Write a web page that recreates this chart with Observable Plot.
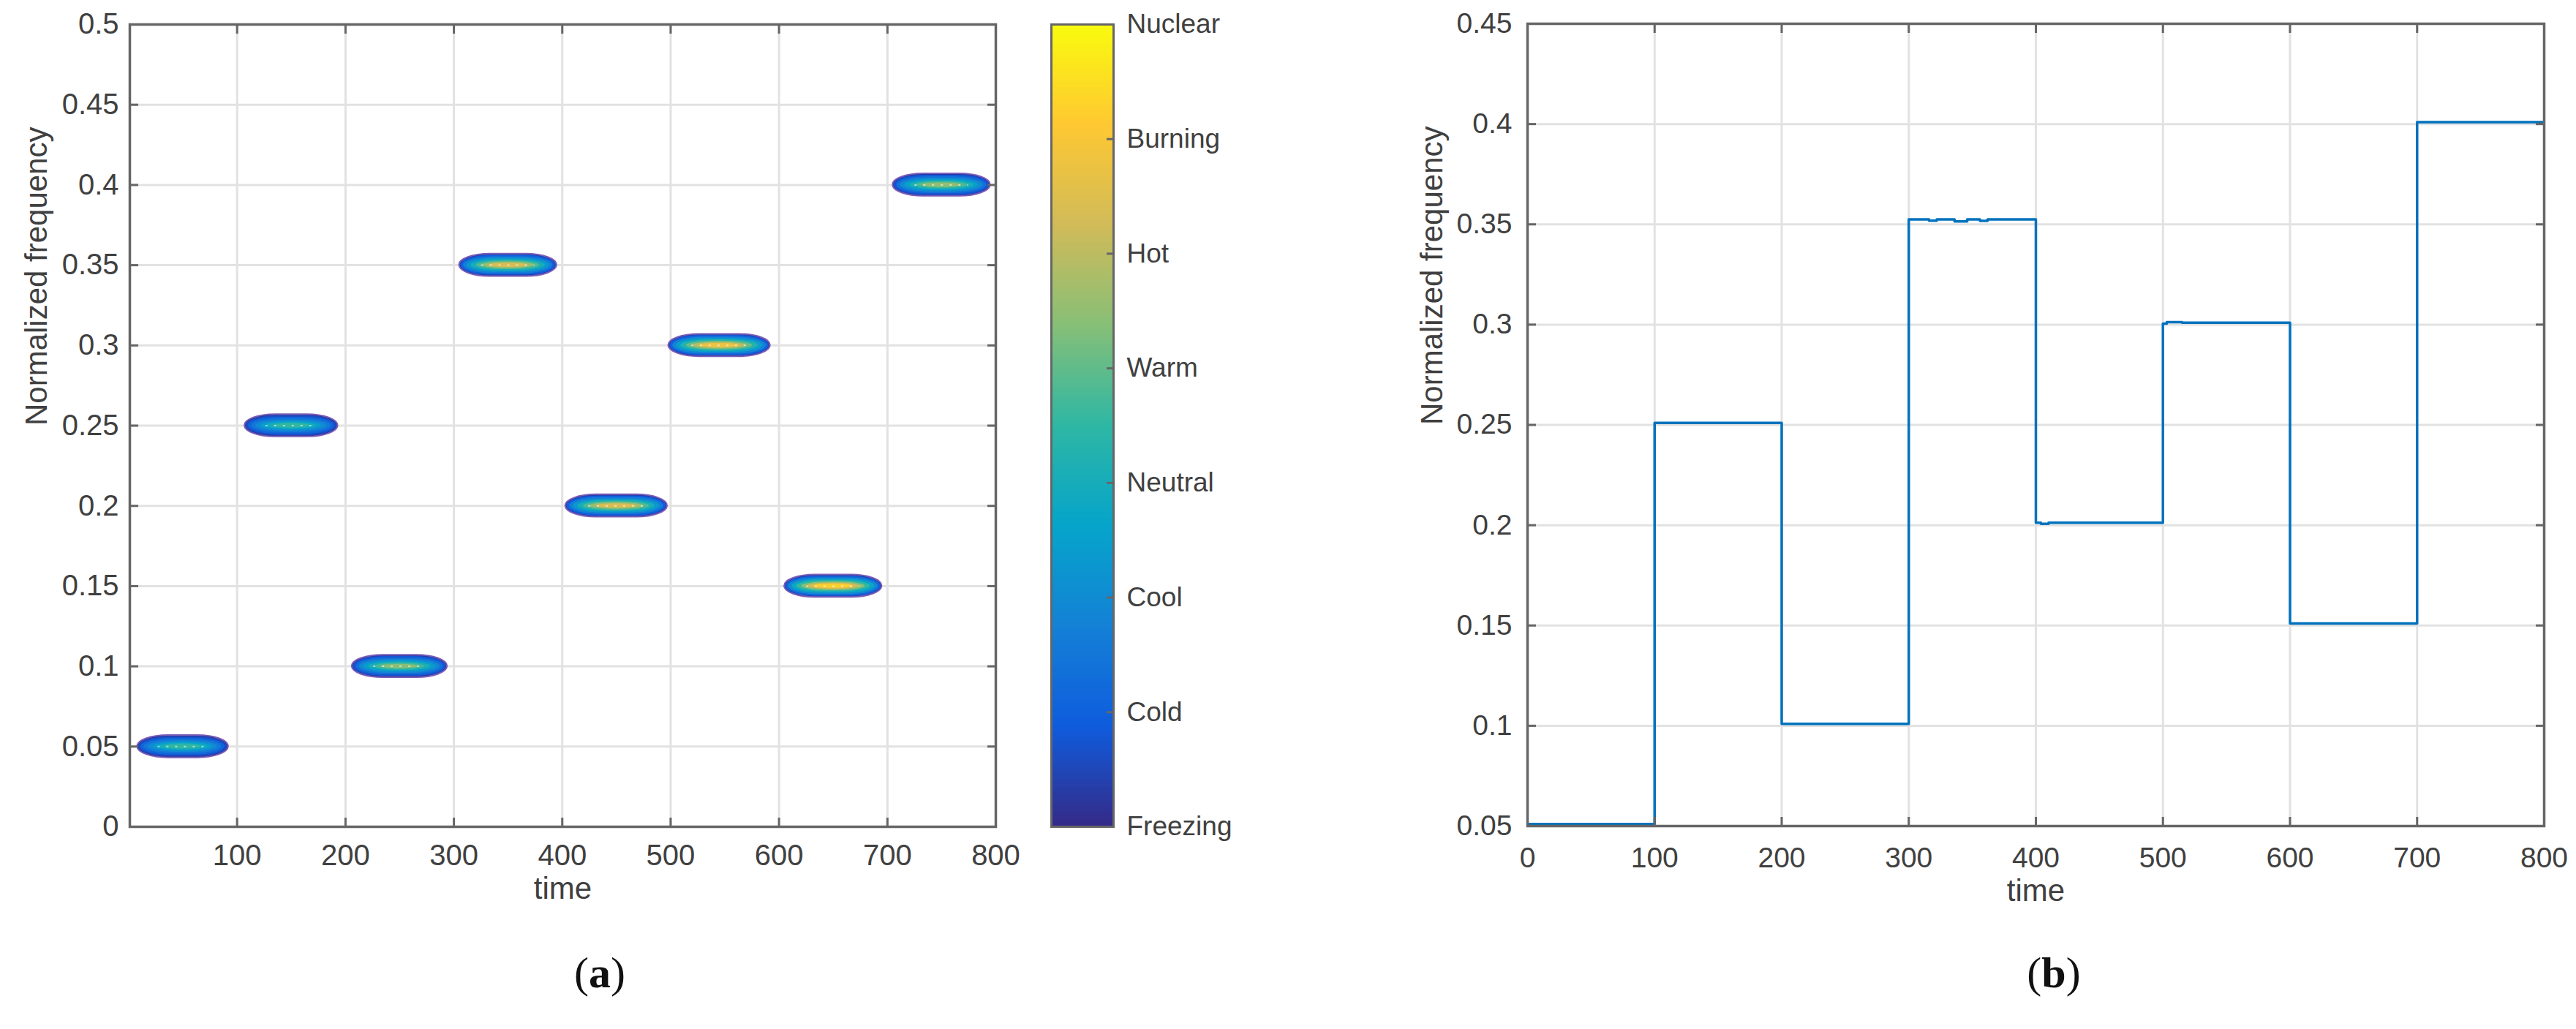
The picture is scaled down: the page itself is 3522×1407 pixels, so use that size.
<!DOCTYPE html>
<html><head><meta charset="utf-8">
<script src="https://cdn.jsdelivr.net/npm/d3@7"></script>
<script src="https://cdn.jsdelivr.net/npm/@observablehq/plot@0.6"></script>
<style>
html,body{margin:0;padding:0;background:#fff;}
#root{position:relative;width:3522px;height:1407px;overflow:hidden;background:#fff;font-family:"Liberation Sans",Arial,sans-serif;}
.panel{position:absolute;top:0;}
.cap{position:absolute;font-family:"Liberation Serif","Times New Roman",serif;font-size:60px;color:#111;transform:translate(-50%,-50%);white-space:nowrap;}
</style></head><body><div id="root"></div>
<script>
// ---------- data: panel (a) time-frequency blobs ----------
const blobTime      = [50, 150, 250, 350, 450, 545, 650, 750];
const blobFreq      = [0.05, 0.25, 0.10, 0.35, 0.20, 0.30, 0.15, 0.40];
const blobHalfWidth = [42, 43, 44, 45, 47, 47, 45, 45];
const blobHalfHeight= [0.007, 0.007, 0.007, 0.007, 0.007, 0.007, 0.007, 0.007];
const blobPeak      = [0.55, 0.55, 0.68, 0.84, 0.84, 0.9, 0.97, 0.7];
// contour rings (fraction of peak, relative size)
const ringFrac   = [0.06, 0.16, 0.28, 0.40, 0.52, 0.65, 0.78, 0.92];
const ringScaleW = [1.00, 0.97, 0.92, 0.85, 0.76, 0.65, 0.53, 0.40];
const ringScaleH = [1.00, 0.88, 0.75, 0.62, 0.50, 0.39, 0.29, 0.19];
const colorLabels = ["Freezing","Cold","Cool","Neutral","Warm","Hot","Burning","Nuclear"];
const parulaStops = ["#352a87","#0f5cdd","#1481d6","#06a4ca","#2eb7a4","#87bf77","#d1bb59","#fec832","#f9fb0e"];
const xTicksA = [100,200,300,400,500,600,700,800];
const yTicksA = [0,0.05,0.1,0.15,0.2,0.25,0.3,0.35,0.4,0.45,0.5];
// ---------- data: panel (b) estimated frequency ----------
const stepTime = [0, 100, 200, 300, 316, 322, 336, 346, 356, 362, 400, 404, 410, 500, 503, 515, 600, 700, 800];
const stepFreq = [0.051, 0.251, 0.101, 0.3525, 0.3518, 0.3525, 0.3515, 0.3525, 0.3517, 0.3525, 0.2012, 0.2007, 0.2012, 0.3005, 0.3012, 0.301, 0.151, 0.401, 0.401];
const xTicksB = [0,100,200,300,400,500,600,700,800];
const yTicksB = [0.05,0.1,0.15,0.2,0.25,0.3,0.35,0.4,0.45];

const fmt = d => String(+d.toFixed(2));
const parula = d3.piecewise(d3.interpolateRgb, parulaStops);
const axisCol = "#666666", textCol = "#404040", gridCol = "#e2e2e2";
const FONT = "Liberation Sans, Arial, sans-serif";

const rings = [];
blobTime.forEach((t, b) => {
  ringFrac.forEach((fr, i) => {
    rings.push({
      i,
      x1: t - blobHalfWidth[b] * ringScaleW[i],
      x2: t + blobHalfWidth[b] * ringScaleW[i],
      y1: blobFreq[b] - blobHalfHeight[b] * ringScaleH[i],
      y2: blobFreq[b] + blobHalfHeight[b] * ringScaleH[i],
      v: blobPeak[b] * fr
    });
  });
});
const ridges = blobTime.map((t, b) => ({x1: t - blobHalfWidth[b]*0.55, x2: t + blobHalfWidth[b]*0.55, y: blobFreq[b]}));

function boxAxes(xt, yt, opts) {
  return [
    Plot.frame({stroke: axisCol, strokeWidth: 3.5}),
    Plot.axisX(xt, {anchor: "bottom", tickSize: -12, tickFormat: () => "", stroke: axisCol, strokeWidth: 3, label: null}),
    Plot.axisX(xt, {anchor: "top", tickSize: -12, tickFormat: () => "", stroke: axisCol, strokeWidth: 3, label: null}),
    Plot.axisY(yt, {anchor: "left", tickSize: -12, tickFormat: () => "", stroke: axisCol, strokeWidth: 3, label: null}),
    Plot.axisY(yt, {anchor: "right", tickSize: -12, tickFormat: () => "", stroke: axisCol, strokeWidth: 3, label: null}),
    Plot.axisX(xt, {anchor: "bottom", tickSize: 0, tickPadding: opts.padX, fontSize: opts.fs, fill: textCol, label: null}),
    Plot.axisY(yt, {anchor: "left", tickSize: 0, tickPadding: opts.padY, fontSize: opts.fs, fill: textCol, tickFormat: fmt, label: null}),
    Plot.text(["time"], {frameAnchor: "bottom", dy: opts.timeDy, fontSize: opts.lfs, fill: textCol}),
    Plot.text(["Normalized frequency"], {frameAnchor: "left", rotate: -90, dx: opts.freqDx, fontSize: opts.lfs, fill: textCol})
  ];
}

// ---------- panel (a) ----------
const chartA = Plot.plot({
  width: 1400, height: 1250,
  marginLeft: 177, marginRight: 39, marginTop: 33, marginBottom: 120,
  style: {fontFamily: FONT, background: "#fff", overflow: "visible"},
  x: {domain: [1, 800], axis: null},
  y: {domain: [0, 0.5], axis: null},
  color: {type: "linear", domain: [0, 1], interpolate: parula},
  marks: [
    Plot.gridX(xTicksA, {stroke: gridCol, strokeOpacity: 1, strokeWidth: 3}),
    Plot.gridY(yTicksA, {stroke: gridCol, strokeOpacity: 1, strokeWidth: 3}),
    Plot.rect(rings, {x1: "x1", x2: "x2", y1: "y1", y2: "y2", fill: "v", rx: 42, ry: 200}),
    Plot.rect(rings.filter(r => r.i === 0), {x1: "x1", x2: "x2", y1: "y1", y2: "y2", fill: "none", stroke: "#7a5cb8", strokeWidth: 2, rx: 42, ry: 200}),
    Plot.ruleY(ridges, {x1: "x1", x2: "x2", y: "y", stroke: "#ffffff", strokeOpacity: 0.55, strokeWidth: 2, strokeDasharray: "3,9"}),
    ...boxAxes(xTicksA, yTicksA, {padX: 24, padY: 15, fs: 40, lfs: 42, timeDy: 98, freqDx: -127})
  ]
});
chartA.classList.add("panel");
chartA.style.left = "0px";

// ---------- colorbar ----------
const rampStep = 7 / 280;
const ramp = d3.range(0, 7, rampStep).map(y => ({y1: y, y2: Math.min(7, y + rampStep * 1.6), v: (y + rampStep / 2) / 7}));
const chartC = Plot.plot({
  width: 400, height: 1250,
  marginLeft: 37, marginRight: 278, marginTop: 33, marginBottom: 120,
  style: {fontFamily: FONT, background: "transparent", overflow: "visible"},
  x: {domain: [0, 1], axis: null},
  y: {domain: [0, 7], axis: null},
  color: {type: "linear", domain: [0, 1], interpolate: parula},
  marks: [
    Plot.rect(ramp, {x1: 0, x2: 1, y1: "y1", y2: "y2", fill: "v"}),
    Plot.frame({stroke: axisCol, strokeWidth: 3}),
    Plot.axisY([1,2,3,4,5,6], {anchor: "right", tickSize: -10, tickFormat: () => "", stroke: axisCol, strokeWidth: 3, label: null}),
    Plot.axisY([0,1,2,3,4,5,6,7], {anchor: "right", tickSize: 0, tickPadding: 18, tickFormat: i => colorLabels[i], fontSize: 37, fill: textCol, label: null})
  ]
});
chartC.classList.add("panel");
chartC.style.left = "1400px";

// ---------- panel (b) ----------
const steps = stepTime.map((t, i) => ({t, f: stepFreq[i]}));
const chartB = Plot.plot({
  width: 1722, height: 1250,
  marginLeft: 288, marginRight: 44, marginTop: 32, marginBottom: 121,
  style: {fontFamily: FONT, background: "transparent", overflow: "visible"},
  x: {domain: [0, 800], axis: null},
  y: {domain: [0.05, 0.45], axis: null},
  marks: [
    Plot.gridX(xTicksB, {stroke: gridCol, strokeOpacity: 1, strokeWidth: 3}),
    Plot.gridY(yTicksB, {stroke: gridCol, strokeOpacity: 1, strokeWidth: 3}),
    Plot.line(steps, {x: "t", y: "f", curve: "step-after", stroke: "#0072bd", strokeWidth: 3.5}),
    ...boxAxes(xTicksB, yTicksB, {padX: 29, padY: 21, fs: 39, lfs: 42, timeDy: 102, freqDx: -130})
  ]
});
chartB.classList.add("panel");
chartB.style.left = "1800px";

const root = document.getElementById("root");
root.append(chartA, chartC, chartB);

function caption(letter, x, y) {
  const d = document.createElement("div");
  d.className = "cap";
  d.innerHTML = "(<b>" + letter + "</b>)";
  d.style.left = x + "px"; d.style.top = y + "px";
  root.append(d);
}
caption("a", 820, 1330);
caption("b", 2808, 1330);
</script></body></html>
